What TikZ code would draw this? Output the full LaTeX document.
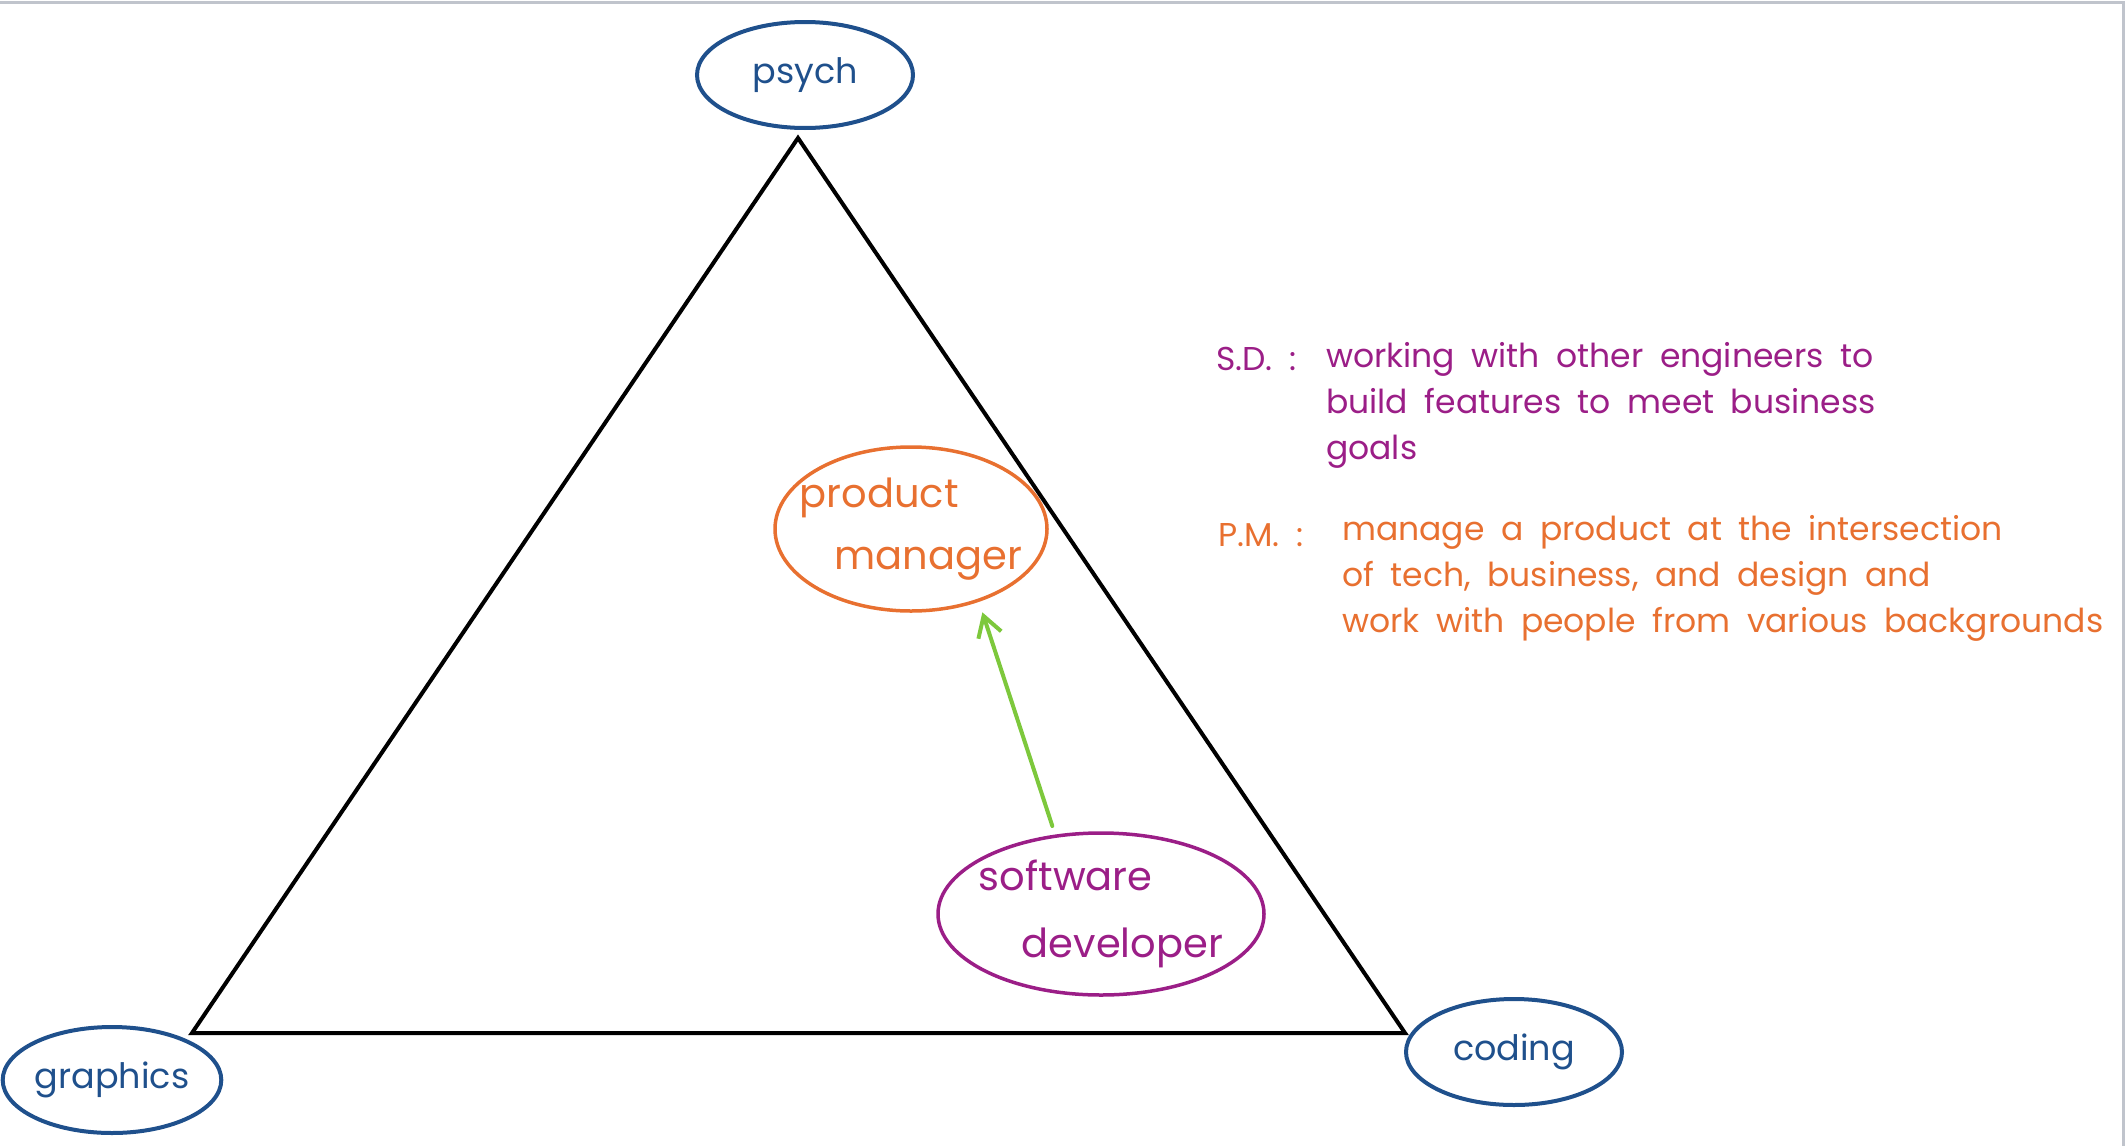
\documentclass[tikz,border=0pt]{standalone}
\usepackage{fontspec}
\setmainfont{Poppins}
\usepackage{tikz}
\usetikzlibrary{shapes.geometric, positioning, arrows.meta}

\definecolor{hubblue}{RGB}{31,80,140}
\definecolor{sdpurple}{RGB}{155,30,135}
\definecolor{pmorange}{RGB}{232,112,48}
\definecolor{pathgreen}{RGB}{125,200,60}
\definecolor{framegray}{RGB}{192,196,204}

\newcommand{\notefont}{\fontsize{33}{46}\selectfont\spaceskip=0.5em plus 0.1em minus 0.1em\relax}

\begin{document}
\begin{tikzpicture}[
        x=1pt, y=-1pt,
        hub/.style={ellipse, draw=hubblue, line width=4pt, text=hubblue, minimum width=216, minimum height=106, inner sep=0pt, font=\fontsize{35}{40}\selectfont},
        role/.style={ellipse, draw=#1, line width=3.5pt, inner sep=0pt},
        rolelabel/.style={text=#1, align=left, inner sep=0pt, font=\fontsize{40}{62}\selectfont},
        note/.style={align=left, inner sep=0pt, font=\notefont},
        triline/.style={line width=4pt, line join=miter},
        careerarrow/.style={-{Straight Barb[length=20pt, width=24pt]}, draw=pathgreen, line width=4pt, line cap=round},
        frame/.style={draw=framegray, line width=3pt}
    ]
    \useasboundingbox (0,0) rectangle (2126,1146);
    \draw[frame] (0,2) -- (2123,2) -- (2123,1146);
%
    % Sommets du triangle
    \node[hub] (psych) at (805,75) {psych};
    \node[hub] (graphics) at (112,1080) {graphics};
    \node[hub] (coding) at (1514,1052) {coding};
%
    \coordinate (apex) at (798,138);
    \coordinate (left) at (192,1033);
    \coordinate (right) at (1405,1033);
    \draw[triline] (apex) -- (left) -- (right) -- cycle;
%
    % Roles
    \node[role=pmorange, minimum width=272, minimum height=164] (pm) at (911,529) {};
    \node[rolelabel=pmorange] (pmtext) at (pm) {product\\\hspace*{35pt}manager};
    \node[role=sdpurple, minimum width=326, minimum height=162] (sd) at (1101,914) {};
    \node[rolelabel=sdpurple, font=\fontsize{40}{67}\selectfont] (sdtext) at (sd) {software\\\hspace*{43pt}developer};
%
    \draw[careerarrow, shorten <=9pt, shorten >=11pt] (sd.120) -- (pm.-47);
%
    % Notes (base = last line)
    \node[note, text=sdpurple, anchor=base west] (sdtag) at (1216,370) {S.D. :};
    \node[note, text=sdpurple, anchor=base west] (sdnote) at (1326,459) {working with other engineers to\\build features to meet business\\goals};
    \node[note, text=pmorange, anchor=base west] (pmtag) at (1218,546) {P.M. :};
    \node[note, text=pmorange, anchor=base west] (pmnote) at (1342,632) {manage a product at the intersection\\of tech, business, and design and\\work with people from various backgrounds};
%
\end{tikzpicture}
\end{document}
